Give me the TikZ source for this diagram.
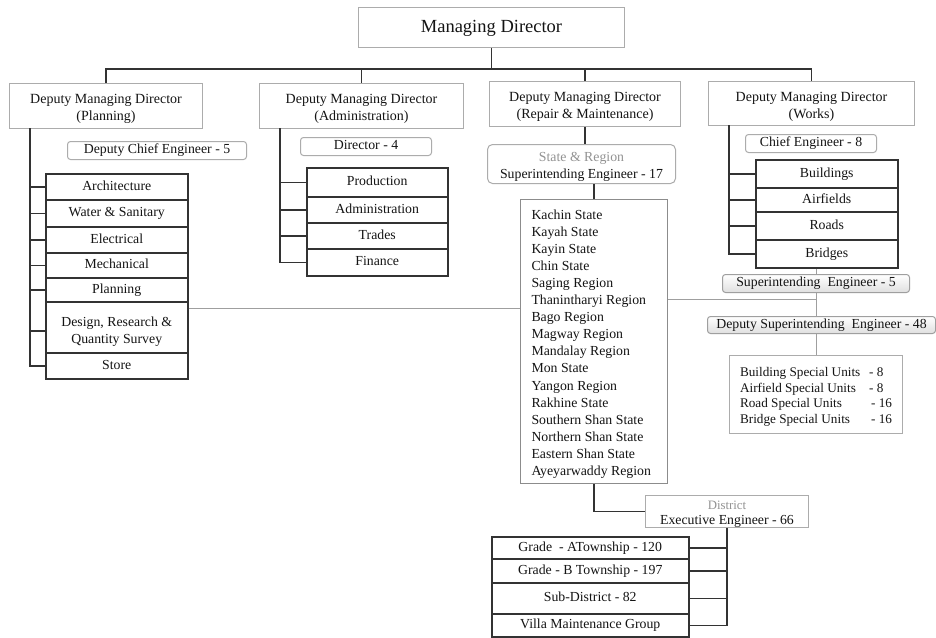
\documentclass[tikz,border=0pt]{standalone}
\usepackage{fontspec}
\setmainfont{Liberation Serif}
\usetikzlibrary{calc}
\newcommand{\upr}[1]{\rule{0pt}{#1}}
\begin{document}
\begin{tikzpicture}[x=1pt,y=-1pt,
 base/.style={inner sep=0pt, anchor=north west, align=center, text=black!92, fill=white, font=\fontsize{13.8}{17}\selectfont},
 one/.style={text height=9.3pt, text depth=2.7pt},
 gboxm/.style={base, draw=gray!65, line width=1pt},
 gbox/.style={gboxm, one},
 kboxm/.style={base, draw=black!80, line width=1.5pt},
 kbox/.style={kboxm, one},
 rboxm/.style={gboxm, rounded corners=3pt},
 rbox/.style={rboxm, one},
 sbox/.style={rbox, draw=gray!75, top color=white, bottom color=gray!25},
 dmd/.style={gboxm, font=\fontsize{14}{17}\selectfont},
 conn/.style={draw=black!80, line width=1.5pt},
 gconn/.style={draw=gray!75, line width=1pt}
 ]
\useasboundingbox[fill=white] (0,0) rectangle (936,637);

% top
\node[gbox, minimum width=266pt, minimum height=40pt, font=\fontsize{18.5}{22}\selectfont, text height=12.5pt, text depth=3.5pt] (md) at (358,7) {Managing Director};
\node[dmd, minimum width=193pt, minimum height=45pt] (dmdP) at (9,83) {\upr{15.5pt}Deputy Managing Director\\(Planning)};
\node[dmd, minimum width=204pt, minimum height=45pt] (dmdA) at (259,83) {\upr{15.5pt}Deputy Managing Director\\(Administration)};
\node[dmd, minimum width=191pt, minimum height=45pt] (dmdR) at (489,81) {\upr{15.5pt}Deputy Managing Director\\(Repair \& Maintenance)};
\node[dmd, minimum width=206pt, minimum height=44pt] (dmdW) at (708,81) {\upr{15.5pt}Deputy Managing Director\\(Works)};

\draw[conn] (md.south) -- ++(0,21) coordinate (bar);
\draw[conn] (bar) -| (dmdP.north);
\draw[conn] (bar) -| (dmdA.north);
\draw[conn] (bar) -| (dmdR.north);
\draw[conn] (bar) -| (dmdW.north);

% planning
\node[rbox, minimum width=179pt, minimum height=18pt] (dce) at (67,141) {Deputy Chief Engineer - 5};
\node[kbox, minimum width=142pt, minimum height=26pt] (arch) at (45,173) {Architecture};
\node[kbox, minimum width=142pt, minimum height=27pt] (water) at (45,199) {Water \& Sanitary};
\node[kbox, minimum width=142pt, minimum height=26pt] (elec) at (45,226) {Electrical};
\node[kbox, minimum width=142pt, minimum height=25pt] (mech) at (45,252) {Mechanical};
\node[kbox, minimum width=142pt, minimum height=24pt] (plan) at (45,277) {Planning};
\node[kboxm, minimum width=142pt, minimum height=51pt] (design) at (45,301) {\upr{18pt}Design, Research \&\\Quantity Survey};
\node[kbox, minimum width=142pt, minimum height=26pt] (store) at (45,352) {Store};
\coordinate (pl) at (30,128);
\draw[conn] (pl) |- (store.west);
\foreach \n in {arch,water,elec,mech,plan} \draw[conn] (pl |- \n.west) -- (\n.west);
\coordinate (ydes) at (0,331);
\draw[conn] (pl |- ydes) -- (design.west |- ydes);

% administration
\node[rbox, minimum width=131pt, minimum height=18pt] (dir4) at (300,137) {Director - 4};
\node[kbox, minimum width=141pt, minimum height=29pt] (prod) at (306,167) {Production};
\node[kbox, minimum width=141pt, minimum height=26pt] (adm) at (306,196) {Administration};
\node[kbox, minimum width=141pt, minimum height=26pt] (trades) at (306,222) {Trades};
\node[kbox, minimum width=141pt, minimum height=27pt] (fin) at (306,248) {Finance};
\coordinate (ad) at (280,128);
\draw[conn] (ad) |- (fin.west);
\foreach \n in {prod,adm,trades} \draw[conn] (ad |- \n.west) -- (\n.west);

% repair & maintenance
\node[rboxm, rounded corners=5pt, minimum width=188pt, minimum height=39pt] (state) at (487,144) {\upr{15.5pt}{\color{gray!85}State \& Region}\\Superintending Engineer - 17};
\draw[conn] (dmdR.south) -- (dmdR.south |- state.north);
\node[gboxm, draw=gray!90, minimum width=147pt, minimum height=284pt, align=left, font=\fontsize{13.8}{17.1}\selectfont] (kachin) at (520,199) {\begin{minipage}{125pt}\raggedright
\upr{14.5pt}Kachin State\\ Kayah State\\ Kayin State\\ Chin State\\ Saging Region\\ Thanintharyi Region\\ Bago Region\\ Magway Region\\ Mandalay Region\\ Mon State\\ Yangon Region\\ Rakhine State\\ Southern Shan State\\ Northern Shan State\\ Eastern Shan State\\ Ayeyarwaddy Region\end{minipage}};
\draw[conn] (kachin.north) -- (kachin.north |- state.south);
\node[gboxm, minimum width=163pt, minimum height=28pt, font=\fontsize{13.8}{15}\selectfont] (district) at (645,495) {\upr{14pt}{\fontsize{12.8}{15}\selectfont\color{gray!85}District}\\Executive Engineer - 66};
\draw[conn] (kachin.south) |- (district.west);
\node[kbox, minimum width=197pt, minimum height=22pt] (ga) at (491,536) {Grade\ \ - ATownship - 120};
\node[kbox, minimum width=197pt, minimum height=24pt] (gb) at (491,558) {Grade - B Township - 197};
\node[kbox, minimum width=197pt, minimum height=31pt] (sub) at (491,582) {Sub-District - 82};
\node[kbox, minimum width=197pt, minimum height=23pt] (villa) at (491,613) {Villa Maintenance Group};
\draw[conn] (district.south) |- (villa.east);
\foreach \n in {ga,gb,sub} \draw[conn] (\n.east) -- (\n.east -| district.south);

% works
\node[rbox, minimum width=131pt, minimum height=18pt] (ce8) at (745,134) {Chief Engineer - 8};
\node[kbox, minimum width=142pt, minimum height=28pt] (bld) at (755,159) {Buildings};
\node[kbox, minimum width=142pt, minimum height=24pt] (air) at (755,187) {Airfields};
\node[kbox, minimum width=142pt, minimum height=28pt] (roads) at (755,211) {Roads};
\node[kbox, minimum width=142pt, minimum height=28pt] (bridges) at (755,239) {Bridges};
\coordinate (wk) at (729,125);
\draw[conn] (wk) |- (bridges.west);
\foreach \n in {bld,air,roads} \draw[conn] (wk |- \n.west) -- (\n.west);

\node[sbox, minimum width=187pt, minimum height=18pt] (se5) at (722,274) {Superintending\ \ Engineer - 5};
\node[sbox, minimum width=228pt, minimum height=17pt] (dse) at (707,316) {Deputy Superintending\ \ Engineer - 48};
\node[gboxm, minimum width=173pt, minimum height=78pt, align=left, font=\fontsize{13.2}{15.5}\selectfont] (units) at (729,355) {\upr{14pt}\makebox[129pt][l]{Building Special Units}- 8\\\makebox[129pt][l]{Airfield Special Units}- 8\\\makebox[131pt][l]{Road Special Units}- 16\\\makebox[131pt][l]{Bridge Special Units}- 16};
\draw[gconn] (se5.north) -- (se5.north |- bridges.south);
\draw[gconn] (se5.south) -- (se5.south |- dse.north);
\draw[gconn] (units.north) -- (units.north |- dse.south);

% long grey links
\coordinate (ya) at (0,299);
\coordinate (yb) at (0,308);
\draw[gconn] (kachin.east |- ya) -| (se5.south);
\draw[gconn] (design.east |- yb) -- (kachin.west |- yb);
\end{tikzpicture}
\end{document}
